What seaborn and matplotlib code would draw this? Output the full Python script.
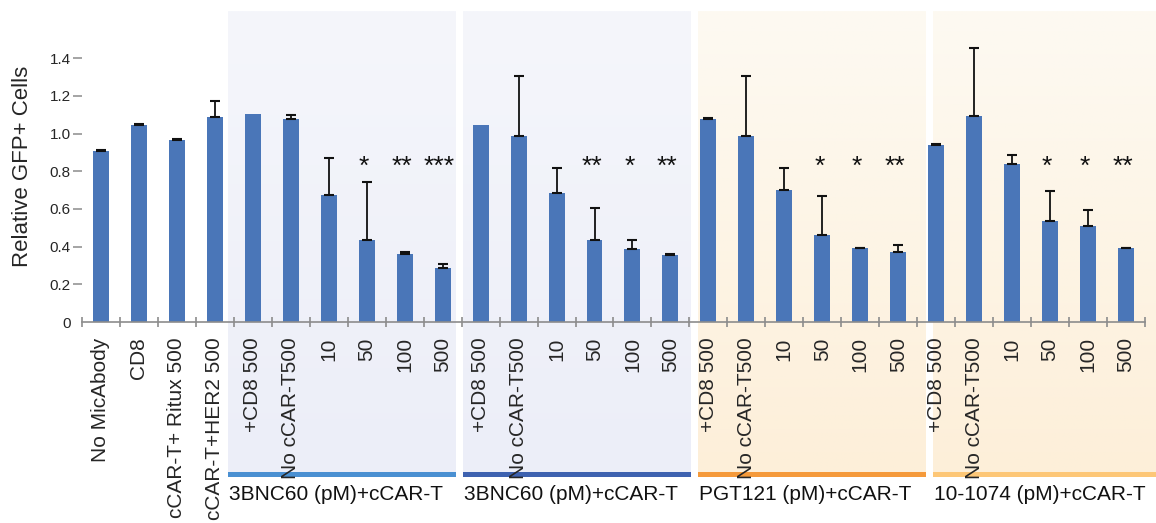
import matplotlib
matplotlib.use("Agg")
import matplotlib.pyplot as plt
import seaborn as sns
import pandas as pd
import numpy as np
from matplotlib.patches import Rectangle
from matplotlib.colors import LinearSegmentedColormap

# data
labels = ["No MicAbody", "CD8", "cCAR-T+ Ritux 500", "cCAR-T+HER2 500"]
dose_labels = ["+CD8 500", "No cCAR-T500", "10", "50", "100", "500"]
labels = labels + dose_labels * 4

values = [0.907, 1.045, 0.965, 1.087,
          1.103, 1.076, 0.673, 0.435, 0.360, 0.286,
          1.045, 0.986, 0.684, 0.435, 0.387, 0.355,
          1.076, 0.986, 0.700, 0.461, 0.392, 0.371,
          0.938, 1.092, 0.838, 0.536, 0.509, 0.392]
err_up = [0.005, 0.005, 0.004, 0.088,
          0.0, 0.024, 0.197, 0.309, 0.013, 0.021,
          0.0, 0.318, 0.134, 0.169, 0.046, 0.005,
          0.007, 0.318, 0.118, 0.209, 0.003, 0.036,
          0.008, 0.361, 0.047, 0.159, 0.086, 0.003]
stars = ["", "", "", "",
         "", "", "", "*", "**", "***",
         "", "", "", "**", "*", "**",
         "", "", "", "*", "*", "**",
         "", "", "", "*", "*", "**"]
group_names = ["3BNC60 (pM)+cCAR-T", "3BNC60 (pM)+cCAR-T",
               "PGT121 (pM)+cCAR-T", "10-1074 (pM)+cCAR-T"]

keys = [f"c{i}" for i in range(len(values))]
df = pd.DataFrame({"key": keys, "value": values, "err": err_up})

sns.set_style("white")
plt.rcParams['font.family'] = ['Liberation Sans', 'DejaVu Sans']

fig = plt.figure(figsize=(11.56, 5.23), dpi=100)
ax = fig.add_axes([0.0709, 0.3843, 0.9196, 0.5947])
ax.patch.set_alpha(0)

# shaded panels behind each group
panel_x = [(3.35, 9.35), (9.53, 15.53), (15.73, 21.73), (21.92, 27.8)]
panel_cols = [("#f5f6fb", "#eceef8"), ("#f5f6fb", "#eceef8"),
              ("#fdfaf2", "#fdefd9"), ("#fdfaf2", "#fdefd9")]
strip_cols = ["#4a90d2", "#3e62b0", "#f59a3b", "#fdc777"]
trans = ax.get_xaxis_transform()
grad = np.linspace(0, 1, 200).reshape(-1, 1)
for (x0, x1), (ctop, cbot), sc, name in zip(panel_x, panel_cols, strip_cols, group_names):
    cm = LinearSegmentedColormap.from_list("g", [ctop, cbot])
    ax.imshow(grad, cmap=cm, extent=(x0, x1, -0.482, 1.0), transform=trans,
              aspect="auto", zorder=0, clip_on=False, interpolation="bilinear")
    ax.add_patch(Rectangle((x0, -0.4984), x1 - x0, 0.0161, transform=trans,
                           facecolor=sc, edgecolor="none", clip_on=False, zorder=0))
    ax.text(x0 + 0.03, -0.553, name, transform=trans, ha="left", va="center",
            fontsize=15, color="#111111")

sns.barplot(data=df, x="key", y="value", order=keys, color="#4a76b8",
            saturation=1, width=0.42, errorbar=None, linewidth=0, ax=ax, zorder=2)

xs = np.arange(len(values))
has_err = df["err"] > 0
ax.errorbar(xs[has_err], df["value"][has_err], yerr=[np.zeros(has_err.sum()), df["err"][has_err]],
            fmt="none", ecolor="#111111", elinewidth=1.3, capsize=3.5, capthick=1.5, zorder=3)

for x, s in zip(xs, stars):
    if s:
        ax.text(x - 0.08, 0.785, s, ha="center", va="baseline",
                fontsize=19, color="#111111")

ax.set_xlim(-0.5, len(values) - 0.5)
ax.set_ylim(0, 1.65)

ax.set_xticks(xs)
ax.set_xticklabels(labels, rotation=90, ha="center", va="top", fontsize=15)
ax.set_xticks(np.arange(-0.5, len(values)), minor=True)
ax.tick_params(axis="x", which="major", bottom=True, length=0, pad=11)
ax.tick_params(axis="x", which="minor", bottom=True, direction="inout", length=7,
               width=1.2, color="#8c8c8c")

ax.set_yticks([0, 0.2, 0.4, 0.6, 0.8, 1.0, 1.2, 1.4])
ax.set_yticklabels(["0", "0.2", "0.4", "0.6", "0.8", "1.0", "1.2", "1.4"], fontsize=11)
ax.tick_params(axis="y", which="major", left=True, length=6.5, width=1.1,
               color="#8c8c8c", pad=1.5)
ax.yaxis.get_major_ticks()[0].tick1line.set_visible(False)

for side in ["top", "right", "left"]:
    ax.spines[side].set_visible(False)
ax.spines["bottom"].set_color("#8c8c8c")
ax.spines["bottom"].set_linewidth(1.2)
ax.spines["bottom"].set_zorder(4)

ax.set_xlabel("")
ax.set_ylabel("Relative GFP+ Cells", fontsize=16, labelpad=12)

fig.savefig("out.png", dpi=100)
